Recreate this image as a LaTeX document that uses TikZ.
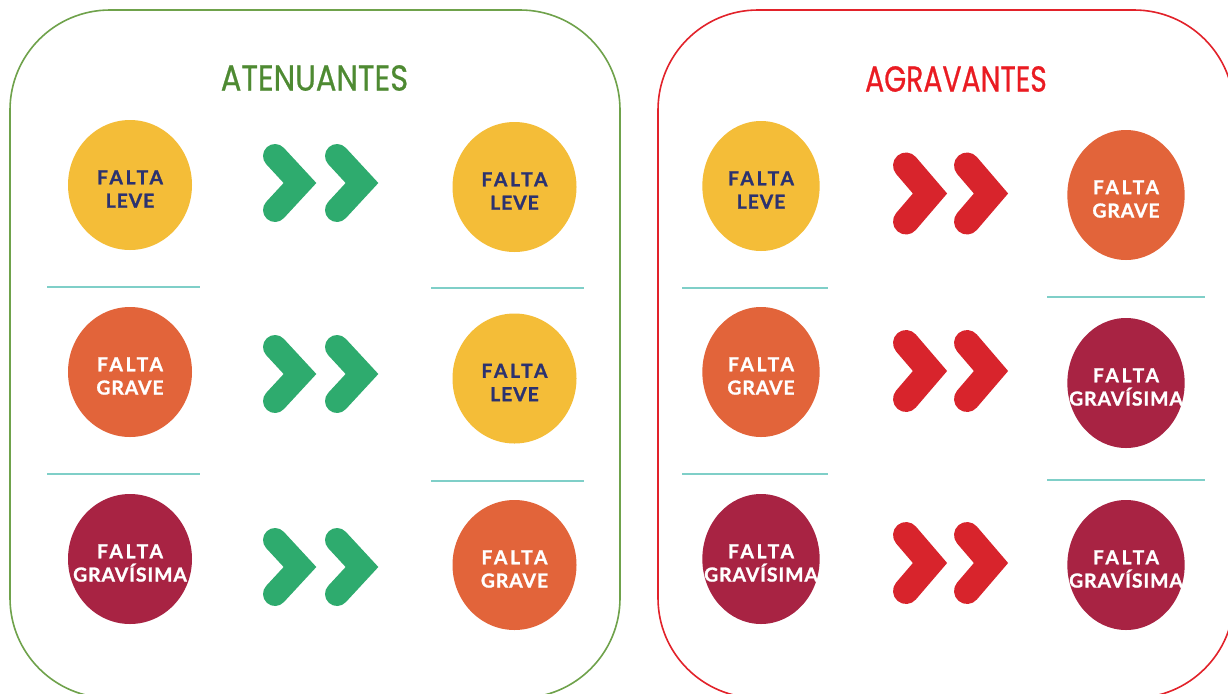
\documentclass[tikz,border=0pt]{standalone}
\usepackage{fontspec}
\setmainfont{Lato}
\newfontfamily\titlefont{Poppins}[FakeBold=0.8]
\newfontfamily\circfont{Lato}[LetterSpace=5, BoldFeatures={FakeBold=1.2}]
\newfontfamily\circfontw{Lato}[LetterSpace=14, BoldFeatures={FakeBold=1.2}]
\usetikzlibrary{shapes.geometric}
\definecolor{cyellow}{HTML}{F4BD38}
\definecolor{corange}{HTML}{E2643A}
\definecolor{cmaroon}{HTML}{A82343}
\definecolor{navy}{HTML}{2B3270}
\definecolor{chevgreen}{HTML}{2EAB6E}
\definecolor{chevred}{HTML}{D8242C}
\definecolor{teal}{HTML}{7FCFC8}
\definecolor{boxgreen}{HTML}{6FA24B}
\definecolor{boxred}{HTML}{E2222A}
\definecolor{titlegreen}{HTML}{4E8A32}
\definecolor{titlered}{HTML}{EA1B22}
\tikzset{
  frame/.style={line width=1.2pt, rounded corners=75pt},
  circ/.style={ellipse, inner sep=0pt, minimum width=93pt, minimum height=97.5pt},
  narrowcirc/.style={minimum width=88pt},
  lbl/.style={align=center, inner sep=0pt, yshift=-3pt,
    font=\circfont\bfseries\fontsize{14.5}{17.5}\selectfont},
  leve/.style={circ, fill=cyellow, label={[lbl, text=navy]center:{\circfontw\bfseries FALTA}\\LEVE}},
  grave/.style={circ, fill=corange, label={[lbl, text=white]center:{\circfontw\bfseries FALTA}\\GRAVE}},
  gravis/.style={circ, fill=cmaroon, label={[lbl, text=white]center:{\circfontw\bfseries FALTA}\\GRAVÍSIMA}},
  divider/.style={draw=teal, line width=1.8pt},
  title/.style={inner sep=0pt, font=\titlefont\fontsize{27}{30}\selectfont},
  chevG/.pic={\draw[line width=18pt, line cap=round, line join=miter, pic actions]
      (12,-27) -- (37,0) -- (12,27);},
  chevR/.pic={\draw[line width=19.5pt, line cap=round, line join=miter, pic actions]
      (13,-28) -- (37,0) -- (13,28);}
}
\begin{document}
\begin{tikzpicture}[x=0.75pt, y=-0.75pt]
\useasboundingbox (0,0) rectangle (1228,693);
\fill[white] (0,0) rectangle (1228,693);
% frames
\draw[frame, draw=boxgreen] (10,10) rectangle (620,698);
\draw[frame, draw=boxred] (658,10) rectangle (1234,698);
% titles
\node[title, text=titlegreen] (tAt) at (314.5,78) {\scalebox{0.85}[1]{ATENUANTES}};
\node[title, text=titlered] (tAg) at (956,79) {\scalebox{0.785}[1]{AGRAVANTES}};
% left box circles
\node[leve] (L1) at (130,185) {};
\node[grave] (L2) at (130,372) {};
\node[gravis] (L3) at (130,559) {};
\node[leve] (M1) at (514.5,187) {};
\node[leve] (M2) at (514.5,378.5) {};
\node[grave] (M3) at (514.5,565) {};
% right box circles
\node[leve, narrowcirc] (A1) at (761,186) {};
\node[grave, narrowcirc] (A2) at (761,372) {};
\node[gravis, narrowcirc] (A3) at (761,559) {};
\node[grave, narrowcirc] (B1) at (1126,195) {};
\node[gravis, narrowcirc] (B2) at (1126,383) {};
\node[gravis, narrowcirc] (B3) at (1126,565) {};
% dividers
\draw[divider] (47,287) -- (200,287);
\draw[divider] (47,474) -- (200,474);
\draw[divider] (431,288) -- (584,288);
\draw[divider] (431,481) -- (584,481);
\draw[divider] (682,288) -- (828,288);
\draw[divider] (682,474) -- (828,474);
\draw[divider] (1047,297) -- (1205,297);
\draw[divider] (1047,480) -- (1205,480);
% chevrons
\foreach \y in {183,374,567} {
  \pic[draw=chevgreen] at (263,\y) {chevG};
  \pic[draw=chevgreen] at (325,\y) {chevG};
}
\foreach \y in {193.5,371,563} {
  \pic[draw=chevred] at (893,\y) {chevR};
  \pic[draw=chevred] at (954,\y) {chevR};
}
\end{tikzpicture}
\end{document}
